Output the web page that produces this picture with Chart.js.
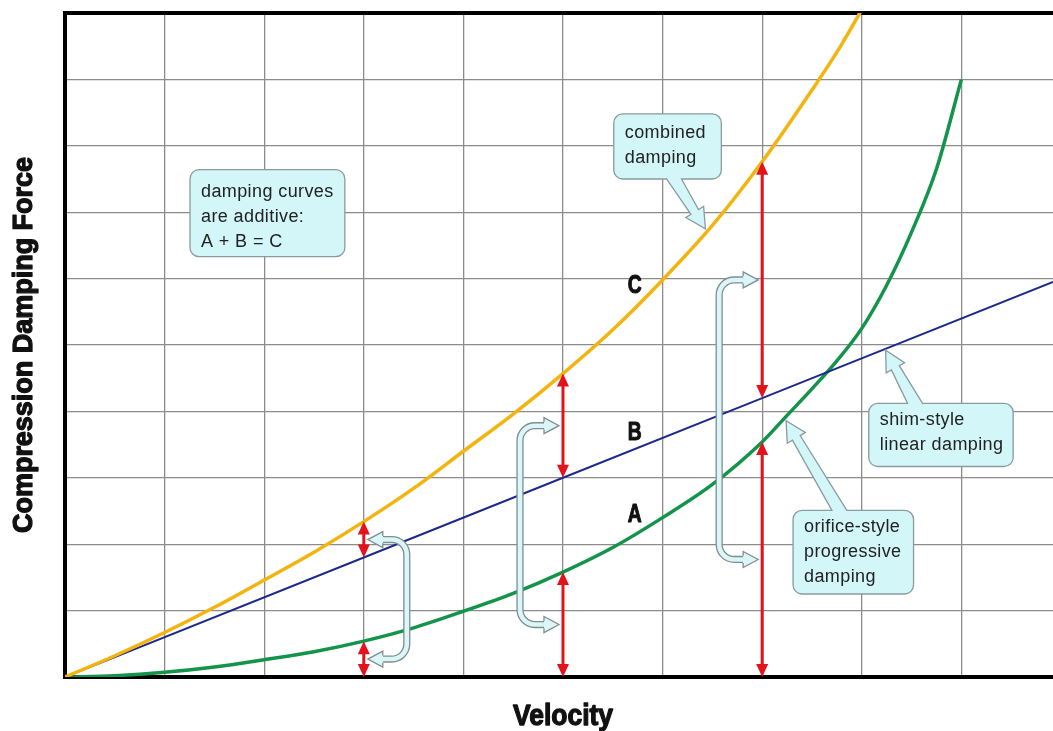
<!DOCTYPE html>
<html lang="en">
<head>
<meta charset="UTF-8">
<title>Compression Damping</title>
<script src="https://cdn.jsdelivr.net/npm/chart.js@4.4.0/dist/chart.umd.min.js"></script>
<style>
  html, body { margin: 0; padding: 0; background: #fff; }
</style>
</head>
<body>
<canvas id="myChart" width="1053" height="731"></canvas>
<script>
// values, x = velocity (grid units), y = force (grid units)
const orificeVel   = [0, 0.5, 1, 1.5, 2, 2.5, 3, 3.5, 4, 4.5, 5, 5.5, 6, 6.5, 7, 7.25, 7.5, 7.75, 8, 8.25, 8.5, 8.75, 9];
const orificeForce = [0, 0.02, 0.07, 0.15, 0.26, 0.38, 0.54, 0.74, 0.99, 1.26, 1.58, 1.95, 2.4, 2.9, 3.54, 3.94, 4.34, 4.76, 5.25, 5.9, 6.7, 7.65, 9.0];
const shimVel   = [0, 3, 5, 7, 9.92];
const shimForce = [0, 1.8, 3.0, 4.2, 5.95];
const combinedVel   = [0, 0.5, 1, 1.5, 2, 2.5, 3, 3.5, 4, 4.5, 5, 5.5, 6, 6.5, 7, 7.5, 7.75, 8];
const combinedForce = [0, 0.32, 0.67, 1.05, 1.46, 1.88, 2.34, 2.84, 3.4, 3.96, 4.57, 5.23, 5.98, 6.8, 7.76, 8.84, 9.41, 10.05];
// velocities where the red arrows show A + B = C
const arrowVel = [3, 5, 7];
const curveLabels = ['A', 'B', 'C'];
const xTitle = 'Velocity';
const yTitle = 'Compression Damping Force';

// callouts (text + where they sit, in data units)
const notes = [
  { lines: ['damping curves', 'are additive:', 'A + B = C'], box: [1.255, 7.64, 2.81, 6.33], first: 22 },
  { lines: ['combined', 'damping'], box: [5.51, 8.48, 6.59, 7.5], first: 19,
    tail: { side: 'bottom', from: 6.04, to: 6.19, tip: [6.43, 6.75] } },
  { lines: ['shim-style', 'linear damping'], box: [8.07, 4.12, 9.52, 3.17], first: 17,
    tail: { side: 'top', from: 8.46, to: 8.61, tip: [8.24, 4.92] } },
  { lines: ['orifice-style', 'progressive', 'damping'], box: [7.31, 2.51, 8.52, 1.25], first: 17,
    tail: { side: 'top', from: 7.7, to: 7.85, tip: [7.24, 3.86] } }
];
const labelPos = { A: [5.72, 2.47], B: [5.72, 3.71], C: [5.72, 5.93] };

const BOLD_FONT = "'Liberation Sans', Arial, sans-serif";
const NOTE_FONT = "18px 'Liberation Sans', Arial, sans-serif";

function pts(xs, ys) {
  return xs.map((v, i) => ({ x: v, y: ys[i] }));
}

function valueAt(xs, ys, v) {
  for (let i = 1; i < xs.length; i++) {
    if (v <= xs[i]) {
      const t = (v - xs[i - 1]) / (xs[i] - xs[i - 1]);
      return ys[i - 1] + t * (ys[i] - ys[i - 1]);
    }
  }
  return ys[ys.length - 1];
}

// heavy text squeezed sideways, to look like a condensed black face
function squeezed(ctx, txt, x, y, size, sx, rot, weight) {
  ctx.save();
  ctx.font = 'bold ' + size + 'px ' + BOLD_FONT;
  ctx.fillStyle = '#111';
  ctx.strokeStyle = '#111';
  ctx.lineWidth = weight;
  ctx.lineJoin = 'round';
  ctx.textAlign = 'center';
  ctx.textBaseline = 'alphabetic';
  ctx.translate(x, y);
  ctx.rotate(rot || 0);
  ctx.scale(sx, 1);
  ctx.fillText(txt, 0, 0);
  ctx.strokeText(txt, 0, 0);
  ctx.restore();
}

function widthOf(ctx, txt, size) {
  ctx.save();
  ctx.font = 'bold ' + size + 'px ' + BOLD_FONT;
  const w = ctx.measureText(txt).width;
  ctx.restore();
  return w;
}

function redArrow(ctx, X, y1, y2) {
  const head = 13, hw = 6;
  ctx.save();
  ctx.strokeStyle = '#e3121b';
  ctx.fillStyle = '#e3121b';
  ctx.lineWidth = 3;
  ctx.beginPath();
  ctx.moveTo(X, y1 + head - 1);
  ctx.lineTo(X, y2 - head + 1);
  ctx.stroke();
  ctx.beginPath();
  ctx.moveTo(X, y1); ctx.lineTo(X - hw, y1 + head); ctx.lineTo(X + hw, y1 + head); ctx.closePath();
  ctx.moveTo(X, y2); ctx.lineTo(X - hw, y2 - head); ctx.lineTo(X + hw, y2 - head); ctx.closePath();
  ctx.fill();
  ctx.restore();
}

function bracket(ctx, X, yTop, yBot, side) {
  const gap = 4, off = 43, r = 15, headLen = 15, headW = 8, half = 3.6;
  const tipX = X + side * gap;
  const baseX = tipX + side * headLen;
  const vx = X + side * off;
  ctx.save();
  ctx.lineCap = 'butt';
  ctx.beginPath();
  ctx.moveTo(baseX, yTop);
  ctx.lineTo(vx - side * r, yTop);
  ctx.arcTo(vx, yTop, vx, yTop + r, r);
  ctx.lineTo(vx, yBot - r);
  ctx.arcTo(vx, yBot, vx - side * r, yBot, r);
  ctx.lineTo(baseX, yBot);
  ctx.lineWidth = 7.2; ctx.strokeStyle = '#7d8f92'; ctx.stroke();
  ctx.lineWidth = 4.6; ctx.strokeStyle = '#dcf5f7'; ctx.stroke();
  [yTop, yBot].forEach(yy => {
    ctx.beginPath();
    ctx.moveTo(baseX, yy - half);
    ctx.lineTo(baseX, yy - headW);
    ctx.lineTo(tipX, yy);
    ctx.lineTo(baseX, yy + headW);
    ctx.lineTo(baseX, yy + half);
    ctx.fillStyle = '#dcf5f7';
    ctx.fill();
    ctx.lineWidth = 1.3; ctx.strokeStyle = '#7d8f92';
    ctx.stroke();
  });
  ctx.restore();
}

function tailPoints(b1, b2, tip) {
  // b1 is the base point met first going clockwise
  const mx = (b1[0] + b2[0]) / 2, my = (b1[1] + b2[1]) / 2;
  let dx = tip[0] - mx, dy = tip[1] - my;
  const L = Math.hypot(dx, dy);
  dx /= L; dy /= L;
  const nx = -dy, ny = dx;
  const s = Math.sign((b1[0] - mx) * nx + (b1[1] - my) * ny) || 1;
  const headLen = 20, wn = 4.5, wb = 10.5;
  const t = L - headLen;
  const P = (w) => [mx + dx * t + nx * w, my + dy * t + ny * w];
  return [b1, P(s * wn), P(s * wb), tip, P(-s * wb), P(-s * wn), b2];
}

function callout(ctx, l, t, r, b, tail, lines, first) {
  const rad = 9;
  ctx.save();
  ctx.beginPath();
  ctx.moveTo(l + rad, t);
  if (tail && tail.side === 'top') {
    tailPoints([tail.x1, t], [tail.x2, t], tail.tip).forEach(p => ctx.lineTo(p[0], p[1]));
  }
  ctx.arcTo(r, t, r, b, rad);
  ctx.arcTo(r, b, l, b, rad);
  if (tail && tail.side === 'bottom') {
    tailPoints([tail.x2, b], [tail.x1, b], tail.tip).forEach(p => ctx.lineTo(p[0], p[1]));
  }
  ctx.arcTo(l, b, l, t, rad);
  ctx.arcTo(l, t, r, t, rad);
  ctx.closePath();
  ctx.fillStyle = '#d3f6f8';
  ctx.fill();
  ctx.lineWidth = 1.3;
  ctx.strokeStyle = '#8a9b9e';
  ctx.stroke();
  ctx.fillStyle = '#222';
  ctx.font = NOTE_FONT;
  ctx.letterSpacing = '0.4px';
  ctx.textBaseline = 'middle';
  ctx.textAlign = 'left';
  lines.forEach((txt, i) => ctx.fillText(txt, l + 11, t + first + i * 25));
  ctx.restore();
}

const annotationPlugin = {
  id: 'damperNotes',
  afterDatasetsDraw(chart) {
    const { ctx, scales } = chart;
    const px = v => scales.x.getPixelForValue(v);
    const py = v => scales.y.getPixelForValue(v);
    const sides = [1, -1, -1];

    arrowVel.forEach((v, i) => {
      const a = valueAt(orificeVel, orificeForce, v);
      const b = valueAt(shimVel, shimForce, v);
      const c = valueAt(combinedVel, combinedForce, v);
      const X = px(v);
      bracket(ctx, X, (py(c) + py(b)) / 2, (py(a) + py(0)) / 2, sides[i]);
      redArrow(ctx, X, py(c), py(b));
      redArrow(ctx, X, py(a), py(0));
    });

    notes.forEach(n => {
      const tail = n.tail ? {
        side: n.tail.side, x1: px(n.tail.from), x2: px(n.tail.to),
        tip: [px(n.tail.tip[0]), py(n.tail.tip[1])]
      } : null;
      callout(ctx, px(n.box[0]), py(n.box[1]), px(n.box[2]), py(n.box[3]), tail, n.lines, n.first);
    });

    curveLabels.forEach(k => squeezed(ctx, k, px(labelPos[k][0]), py(labelPos[k][1]) + 9.5, 26, 0.74, 0, 1.1));
  },
  afterDraw(chart) {
    const { ctx, chartArea } = chart;
    // axis titles: condensed heavy face, fitted to the reference lengths
    const yMid = (chartArea.top + chartArea.bottom) / 2;
    squeezed(ctx, yTitle, 32, yMid, 28, 376 / widthOf(ctx, yTitle, 28), -Math.PI / 2, 1.3);
    const xMid = (chartArea.left + chartArea.right) / 2 + 4;
    squeezed(ctx, xTitle, xMid, 725, 30, 100 / widthOf(ctx, xTitle, 30), 0, 1.3);
  }
};

const ctx = document.getElementById('myChart').getContext('2d');
const myChart = new Chart(ctx, {
  type: 'line',
  data: {
    datasets: [
      { label: 'C', data: pts(combinedVel, combinedForce), borderColor: '#f4b40f', borderWidth: 3.5,
        pointRadius: 0, cubicInterpolationMode: 'monotone', fill: false },
      { label: 'B', data: pts(shimVel, shimForce), borderColor: '#1d2a8c', borderWidth: 2,
        pointRadius: 0, tension: 0, fill: false },
      { label: 'A', data: pts(orificeVel, orificeForce), borderColor: '#13944a', borderWidth: 3.5,
        pointRadius: 0, cubicInterpolationMode: 'monotone', fill: false }
    ]
  },
  options: {
    responsive: false,
    animation: false,
    devicePixelRatio: 1,
    layout: { padding: { top: 13, right: 0, left: 0, bottom: 0 } },
    plugins: { legend: { display: false }, tooltip: { enabled: false } },
    scales: {
      x: {
        type: 'linear', min: 0, max: 9.92,
        ticks: { display: false, stepSize: 1, includeBounds: false },
        grid: { color: '#8c8c8c', lineWidth: 1.3, drawTicks: false },
        border: { display: true, color: '#000', width: 4 },
        title: { display: false, text: xTitle },
        afterFit(scale) { scale.height = 54; }
      },
      y: {
        type: 'linear', min: 0, max: 10,
        ticks: { display: false, stepSize: 1 },
        grid: {
          color: c => c.tick && c.tick.value === 10 ? '#000' : '#8c8c8c',
          lineWidth: c => c.tick && c.tick.value === 10 ? 4 : 1.3,
          drawTicks: false
        },
        border: { display: true, color: '#000', width: 4 },
        title: { display: false, text: yTitle },
        afterFit(scale) { scale.width = 65; }
      }
    }
  },
  plugins: [annotationPlugin]
});
</script>
</body>
</html>
